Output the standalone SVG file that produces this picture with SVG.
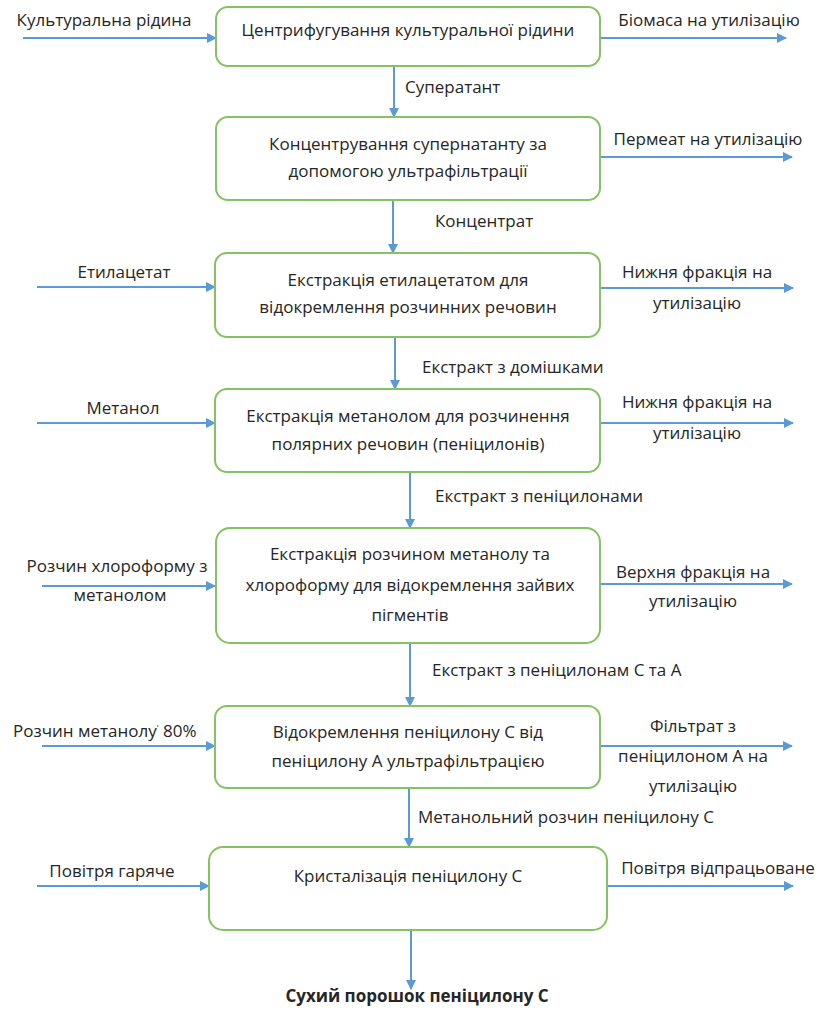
<svg xmlns="http://www.w3.org/2000/svg" width="819" height="1012" viewBox="0 0 819 1012">
<defs>
<style>
.box{fill:#fff;stroke:#86c262;stroke-width:2}
.t{font-family:"Open Sans","Liberation Sans",Arial,sans-serif;font-size:17px;fill:#262626}
.c{text-anchor:middle}
.b{font-weight:bold}
.ln{stroke:#5b9bd5;stroke-width:2;fill:none;marker-end:url(#ah)}
</style>
<marker id="ah" viewBox="0 0 10 10" refX="9" refY="5" markerWidth="5" markerHeight="5" orient="auto" markerUnits="strokeWidth">
<path d="M0,0 L10,5 L0,10 z" fill="#5b9bd5"/>
</marker>
</defs>
<rect width="819" height="1012" fill="#fff"/>
<g id="connectors">
<line class="ln" x1="23" y1="38" x2="216" y2="38"/>
<line class="ln" x1="600" y1="38" x2="786" y2="38"/>
<line class="ln" x1="394" y1="66" x2="394" y2="117"/>
<line class="ln" x1="600" y1="157" x2="792" y2="157"/>
<line class="ln" x1="393" y1="200" x2="393" y2="253"/>
<line class="ln" x1="37" y1="287" x2="215" y2="287"/>
<line class="ln" x1="600" y1="288" x2="793" y2="288"/>
<line class="ln" x1="395" y1="337" x2="395" y2="389"/>
<line class="ln" x1="37" y1="423" x2="215" y2="423"/>
<line class="ln" x1="600" y1="423" x2="793" y2="423"/>
<line class="ln" x1="410" y1="472" x2="410" y2="528"/>
<line class="ln" x1="42" y1="586" x2="215" y2="586"/>
<line class="ln" x1="600" y1="584" x2="792" y2="584"/>
<line class="ln" x1="410" y1="643" x2="410" y2="706"/>
<line class="ln" x1="42" y1="746" x2="215" y2="746"/>
<line class="ln" x1="600" y1="746" x2="792" y2="746"/>
<line class="ln" x1="409" y1="788" x2="409" y2="847"/>
<line class="ln" x1="37" y1="886" x2="209" y2="886"/>
<line class="ln" x1="607" y1="886" x2="793" y2="886"/>
<line class="ln" x1="411" y1="930" x2="411" y2="989"/>
</g>
<g id="labels">
<text class="t c" x="104" y="26">Культуральна рідина</text>
<text class="t c" x="709" y="26">Біомаса на утилізацію</text>
<text class="t" x="405" y="93">Суператант</text>
<text class="t c" x="708" y="145">Пермеат на утилізацію</text>
<text class="t" x="435" y="227">Концентрат</text>
<text class="t c" x="124" y="278">Етилацетат</text>
<text class="t c" x="697" y="278">Нижня фракція на</text>
<text class="t c" x="697" y="309">утилізацію</text>
<text class="t" x="422" y="373">Екстракт з домішками</text>
<text class="t c" x="123" y="414">Метанол</text>
<text class="t c" x="697" y="408">Нижня фракція на</text>
<text class="t c" x="697" y="439">утилізацію</text>
<text class="t" x="435" y="502">Екстракт з пеніцилонами</text>
<text class="t c" x="117" y="572">Розчин хлороформу з</text>
<text class="t c" x="120" y="601">метанолом</text>
<text class="t c" x="693" y="578">Верхня фракція на</text>
<text class="t c" x="693" y="607">утилізацію</text>
<text class="t" x="432" y="676">Екстракт з пеніцилонам С та А</text>
<text class="t" x="13" y="737">Розчин метанолу<tspan font-size="9" dy="-5">'</tspan><tspan dy="5"> 80%</tspan></text>
<text class="t c" x="693" y="732">Фільтрат з</text>
<text class="t c" x="693" y="762">пеніцилоном А на</text>
<text class="t c" x="693" y="792">утилізацію</text>
<text class="t" x="418" y="823">Метанольний розчин пеніцилону С</text>
<text class="t c" x="112" y="877">Повітря гаряче</text>
<text class="t c" x="718" y="874">Повітря відпрацьоване</text>
<text class="t c b" x="417" y="1002">Сухий порошок пеніцилону С</text>
</g>
<g id="n1"><rect class="box" x="216" y="7" width="384" height="59" rx="12"/>
<text class="t c" x="408" y="36">Центрифугування культуральної рідини</text></g>
<g id="n2"><rect class="box" x="216" y="117" width="384" height="83" rx="12"/>
<text class="t c" x="408" y="150">Концентрування супернатанту за</text>
<text class="t c" x="408" y="177">допомогою ультрафільтрації</text></g>
<g id="n3"><rect class="box" x="215" y="253" width="385" height="84" rx="12"/>
<text class="t c" x="408" y="286">Екстракція етилацетатом для</text>
<text class="t c" x="408" y="313">відокремлення розчинних речовин</text></g>
<g id="n4"><rect class="box" x="215" y="389" width="385" height="83" rx="12"/>
<text class="t c" x="408" y="422">Екстракція метанолом для розчинення</text>
<text class="t c" x="408" y="450">полярних речовин (пеніцилонів)</text></g>
<g id="n5"><rect class="box" x="216" y="528" width="384" height="115" rx="14"/>
<text class="t c" x="410" y="560">Екстракція розчином метанолу та</text>
<text class="t c" x="410" y="591">хлороформу для відокремлення зайвих</text>
<text class="t c" x="410" y="621">пігментів</text></g>
<g id="n6"><rect class="box" x="215" y="706" width="385" height="82" rx="12"/>
<text class="t c" x="408" y="738">Відокремлення пеніцилону С від</text>
<text class="t c" x="408" y="767">пеніцилону А ультрафільтрацією</text></g>
<g id="n7"><rect class="box" x="209" y="847" width="398" height="83" rx="14"/>
<text class="t c" x="408" y="882">Кристалізація пеніцилону С</text></g>
</svg>
